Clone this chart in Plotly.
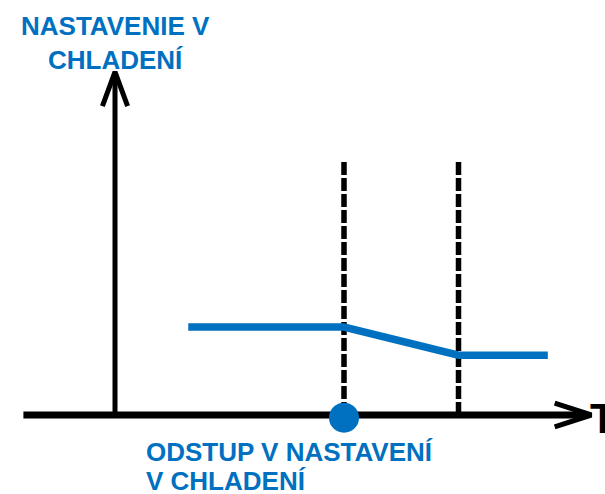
import plotly.graph_objects as go

# ---- data (abstract units: x = time T, y = setpoint) ----
offset_x = [10.0, 15.0]              # vertical dashed markers
setpoint_x = [3.2, 10.0, 15.0, 18.9]
setpoint_y = [10.0, 10.0, 6.8, 6.8]
offset_point_x = [10.0]
offset_point_y = [-0.3]
dash_top = 28.9
x_axis_start, x_axis_end = -4.0, 20.8
y_axis_end = 39.0

title_text = "NASTAVENIE V<br>CHLADENÍ"
bottom_line1 = "ODSTUP V NASTAVENÍ"
bottom_line2 = "V CHLADENÍ"
x_label = "T"

BLUE = "#0070C0"
W, H = 605, 494
FONT = "Liberation Sans, Arial, sans-serif"

fig = go.Figure()

# dashed vertical lines
for xv in offset_x:
    fig.add_trace(go.Scatter(x=[xv, xv], y=[0, dash_top], mode="lines",
                             line=dict(color="black", width=5.5, dash="13px,3px"),
                             hoverinfo="skip"))

# axes
fig.add_trace(go.Scatter(x=[x_axis_start, x_axis_end - 0.2], y=[0, 0], mode="lines",
                         line=dict(color="black", width=7), hoverinfo="skip"))
fig.add_trace(go.Scatter(x=[0, 0], y=[0, y_axis_end - 0.3], mode="lines",
                         line=dict(color="black", width=5), hoverinfo="skip"))

# arrow heads (chevrons)
ax_dx, ax_dy = 1.6, 1.35
fig.add_trace(go.Scatter(x=[x_axis_end - ax_dx, x_axis_end, x_axis_end - ax_dx],
                         y=[ax_dy, 0, -ax_dy], mode="lines",
                         line=dict(color="black", width=5), hoverinfo="skip"))
ay_dx, ay_dy = 0.55, 3.9
fig.add_trace(go.Scatter(x=[-ay_dx, 0, ay_dx],
                         y=[y_axis_end - ay_dy, y_axis_end, y_axis_end - ay_dy], mode="lines",
                         line=dict(color="black", width=5), hoverinfo="skip"))

# setpoint line
fig.add_trace(go.Scatter(x=setpoint_x, y=setpoint_y, mode="lines",
                         line=dict(color=BLUE, width=7.5), hoverinfo="skip"))

# offset point
fig.add_trace(go.Scatter(x=offset_point_x, y=offset_point_y, mode="markers",
                         marker=dict(color=BLUE, size=30, line=dict(width=0)),
                         hoverinfo="skip"))

px_per_x = 22.9
px_per_y = 8.8
x0_px, y0_px = 115, 415

annotations = [
    dict(text=title_text, x=0, xref="x", y=1 - 9 / H, yref="paper",
         xanchor="center", yanchor="top", showarrow=False, align="center",
         font=dict(family=FONT, size=26, color=BLUE, weight="bold")),
    dict(text=bottom_line1, x=(145 - x0_px) / px_per_x - 0.05, xref="x",
         y=1 - 435 / H, yref="paper", xanchor="left", yanchor="top", showarrow=False,
         font=dict(family=FONT, size=26, color=BLUE, weight="bold")),
    dict(text=bottom_line2, x=(145 - x0_px) / px_per_x - 0.05, xref="x",
         y=1 - 464 / H, yref="paper", xanchor="left", yanchor="top", showarrow=False,
         font=dict(family=FONT, size=26, color=BLUE, weight="bold")),
    dict(text=x_label, x=(588 - x0_px) / px_per_x, xref="x",
         y=(y0_px - 418) / px_per_y, yref="y",
         xanchor="left", yanchor="middle", showarrow=False,
         font=dict(family=FONT, size=42, color="black", weight="bold")),
]

fig.update_layout(
    width=W, height=H,
    margin=dict(l=0, r=0, t=0, b=0),
    paper_bgcolor="white", plot_bgcolor="white",
    showlegend=False,
    annotations=annotations,
    xaxis=dict(range=[-x0_px / px_per_x, (W - x0_px) / px_per_x], visible=False, fixedrange=True),
    yaxis=dict(range=[-(H - y0_px) / px_per_y, y0_px / px_per_y], visible=False, fixedrange=True),
)

fig.write_html("out.html", config={"displayModeBar": False},
               post_script="document.body.style.margin='0';document.body.style.overflow='hidden';")
